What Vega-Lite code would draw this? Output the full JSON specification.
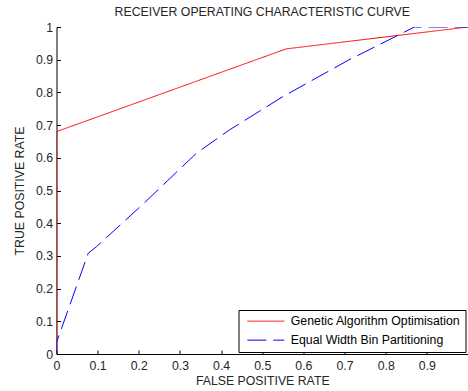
{
  "$schema": "https://vega.github.io/schema/vega-lite/v6.json",
  "autosize": "none",
  "width": 411.5,
  "height": 327,
  "padding": {"left": 56.5, "top": 27, "right": 0, "bottom": 37},
  "background": "white",
  "title": {
    "text": "RECEIVER OPERATING CHARACTERISTIC CURVE",
    "font": "Liberation Sans",
    "fontSize": 12.3,
    "fontWeight": "normal",
    "color": "#262626",
    "anchor": "middle",
    "offset": 3
  },
  "data": {
    "values": [
      {"series": "Genetic Algorithm Optimisation", "fpr": 0, "tpr": 0},
      {"series": "Genetic Algorithm Optimisation", "fpr": 0, "tpr": 0.68},
      {"series": "Genetic Algorithm Optimisation", "fpr": 0.558, "tpr": 0.933},
      {"series": "Genetic Algorithm Optimisation", "fpr": 1, "tpr": 1},
      {"series": "Equal Width Bin Partitioning", "fpr": 0, "tpr": 0},
      {"series": "Equal Width Bin Partitioning", "fpr": 0, "tpr": 0.035},
      {"series": "Equal Width Bin Partitioning", "fpr": 0.077, "tpr": 0.308},
      {"series": "Equal Width Bin Partitioning", "fpr": 0.097, "tpr": 0.328},
      {"series": "Equal Width Bin Partitioning", "fpr": 0.21, "tpr": 0.458},
      {"series": "Equal Width Bin Partitioning", "fpr": 0.34, "tpr": 0.614},
      {"series": "Equal Width Bin Partitioning", "fpr": 0.42, "tpr": 0.685},
      {"series": "Equal Width Bin Partitioning", "fpr": 0.55, "tpr": 0.787},
      {"series": "Equal Width Bin Partitioning", "fpr": 0.71, "tpr": 0.899},
      {"series": "Equal Width Bin Partitioning", "fpr": 0.87, "tpr": 1},
      {"series": "Equal Width Bin Partitioning", "fpr": 1, "tpr": 1}
    ]
  },
  "mark": {"type": "line", "strokeWidth": 1, "clip": true},
  "encoding": {
    "x": {
      "field": "fpr",
      "type": "quantitative",
      "scale": {"domain": [0, 1], "nice": false, "zero": false},
      "axis": {
        "title": "FALSE POSITIVE RATE",
        "values": [0, 0.1, 0.2, 0.3, 0.4, 0.5, 0.6, 0.7, 0.8, 0.9],
        "format": "~g",
        "grid": false,
        "tickSize": -4,
        "labelPadding": 9,
        "titlePadding": 3,
        "labelFlush": false
      }
    },
    "y": {
      "field": "tpr",
      "type": "quantitative",
      "scale": {"domain": [0, 1], "nice": false},
      "axis": {
        "title": "TRUE POSITIVE RATE",
        "values": [0, 0.1, 0.2, 0.3, 0.4, 0.5, 0.6, 0.7, 0.8, 0.9, 1],
        "format": "~g",
        "grid": false,
        "tickSize": -4,
        "labelPadding": 8,
        "titlePadding": 9,
        "labelFlush": false
      }
    },
    "color": {
      "field": "series",
      "type": "nominal",
      "scale": {
        "domain": ["Genetic Algorithm Optimisation", "Equal Width Bin Partitioning"],
        "range": ["#ff0000", "#0000ff"]
      },
      "legend": {"title": null}
    },
    "strokeDash": {
      "field": "series",
      "type": "nominal",
      "scale": {
        "domain": ["Genetic Algorithm Optimisation", "Equal Width Bin Partitioning"],
        "range": [[1, 0], [19, 7]]
      },
      "legend": {"title": null}
    }
  },
  "config": {
    "view": {"stroke": null},
    "axis": {
      "domainColor": "#000000",
      "domainWidth": 1,
      "tickColor": "#000000",
      "tickWidth": 1,
      "labelFont": "Liberation Sans",
      "labelFontSize": 12.3,
      "labelColor": "#262626",
      "titleFont": "Liberation Sans",
      "titleFontSize": 12.3,
      "titleFontWeight": "normal",
      "titleColor": "#262626"
    },
    "legend": {
      "orient": "none",
      "legendX": 182,
      "legendY": 283,
      "strokeColor": "#000000",
      "fillColor": "#ffffff",
      "padding": 5,
      "symbolType": "M-0.46,0H6.94",
      "symbolSize": 100,
      "symbolStrokeWidth": 1,
      "symbolFillColor": "transparent",
      "labelFont": "Liberation Sans",
      "labelFontSize": 12.3,
      "labelColor": "#000000",
      "labelOffset": 35,
      "labelLimit": 300,
      "rowPadding": 6,
      "symbolOpacity": 1
    }
  }
}
